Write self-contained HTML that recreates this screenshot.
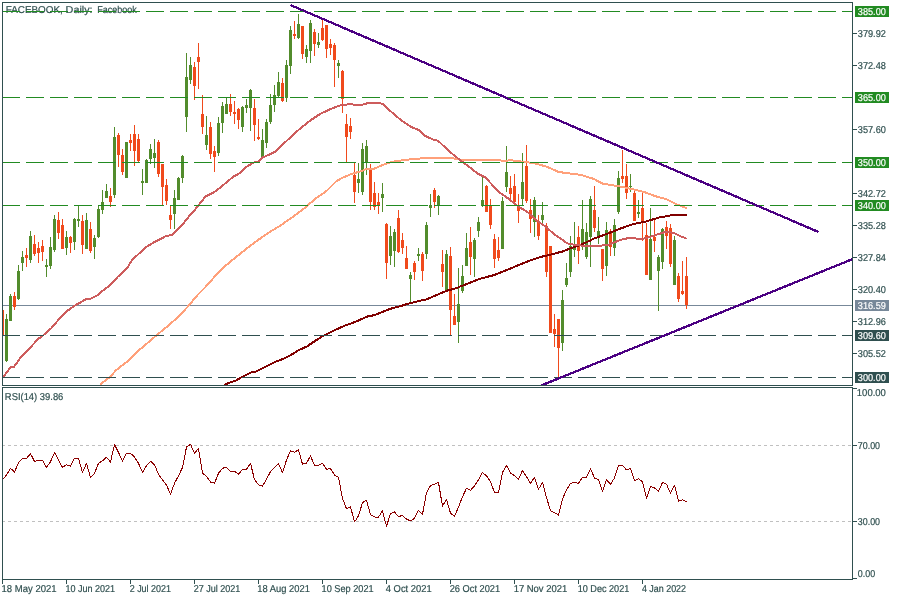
<!DOCTYPE html><html><head><meta charset="utf-8"><style>
html,body{margin:0;padding:0;background:#fff;width:900px;height:600px;overflow:hidden}
svg{display:block;will-change:transform}
text{text-rendering:geometricPrecision;font-family:"Liberation Sans",sans-serif;font-size:10px;letter-spacing:0px;fill:#2f4f4f;stroke:#2f4f4f;stroke-width:0.2px}
text.w{fill:#fff;stroke:#fff}
</style></head><body>
<svg width="900" height="600" viewBox="0 0 900 600">
<defs><clipPath id="cm"><rect x="3" y="3" width="849" height="382"/></clipPath>
<clipPath id="cr"><rect x="3" y="388" width="849" height="191"/></clipPath></defs>
<rect width="900" height="600" fill="#fff"/>
<g clip-path="url(#cm)">
<text x="5.71" y="13" textLength="57.07" lengthAdjust="spacingAndGlyphs">FACEBOOK,</text>
<text x="65.62" y="13" textLength="26.97" lengthAdjust="spacingAndGlyphs">Daily:</text>
<text x="97.30" y="13" textLength="39.43" lengthAdjust="spacingAndGlyphs">Facebook</text>
<line x1="2" y1="305.5" x2="852" y2="305.5" stroke="#778899" stroke-width="1" shape-rendering="crispEdges"/>
<g fill="#528c2c" shape-rendering="crispEdges"><rect x="6" y="314" width="1" height="48"/><rect x="5" y="319" width="3" height="42"/><rect x="10" y="294" width="1" height="27"/><rect x="9" y="296" width="3" height="25"/><rect x="18" y="265" width="1" height="35"/><rect x="17" y="271" width="3" height="28"/><rect x="22" y="251" width="1" height="20"/><rect x="21" y="257" width="3" height="6"/><rect x="30" y="231" width="1" height="32"/><rect x="29" y="236" width="3" height="24"/><rect x="46" y="259" width="1" height="18"/><rect x="45" y="265" width="3" height="2"/><rect x="50" y="237" width="1" height="32"/><rect x="49" y="247" width="3" height="19"/><rect x="54" y="215" width="1" height="37"/><rect x="53" y="219" width="3" height="31"/><rect x="66" y="231" width="1" height="24"/><rect x="65" y="237" width="3" height="11"/><rect x="74" y="218" width="1" height="32"/><rect x="73" y="219" width="3" height="23"/><rect x="78" y="205" width="1" height="22"/><rect x="77" y="219" width="3" height="2"/><rect x="86" y="213" width="1" height="36"/><rect x="85" y="220" width="3" height="29"/><rect x="94" y="235" width="1" height="24"/><rect x="93" y="238" width="3" height="9"/><rect x="98" y="205" width="1" height="33"/><rect x="97" y="209" width="3" height="28"/><rect x="102" y="190" width="1" height="24"/><rect x="101" y="202" width="3" height="8"/><rect x="106" y="184" width="1" height="14"/><rect x="105" y="191" width="3" height="7"/><rect x="114" y="127" width="1" height="71"/><rect x="113" y="137" width="3" height="58"/><rect x="126" y="142" width="1" height="36"/><rect x="125" y="142" width="3" height="36"/><rect x="142" y="169" width="1" height="26"/><rect x="141" y="181" width="3" height="2"/><rect x="146" y="159" width="1" height="24"/><rect x="145" y="160" width="3" height="23"/><rect x="150" y="144" width="1" height="20"/><rect x="149" y="149" width="3" height="10"/><rect x="154" y="139" width="1" height="29"/><rect x="153" y="153" width="3" height="5"/><rect x="174" y="190" width="1" height="39"/><rect x="173" y="198" width="3" height="16"/><rect x="178" y="177" width="1" height="23"/><rect x="177" y="178" width="3" height="22"/><rect x="182" y="155" width="1" height="28"/><rect x="181" y="156" width="3" height="22"/><rect x="186" y="53" width="1" height="79"/><rect x="185" y="77" width="3" height="40"/><rect x="190" y="57" width="1" height="27"/><rect x="189" y="65" width="3" height="15"/><rect x="206" y="116" width="1" height="34"/><rect x="205" y="135" width="3" height="10"/><rect x="218" y="117" width="1" height="39"/><rect x="217" y="123" width="3" height="30"/><rect x="222" y="102" width="1" height="31"/><rect x="221" y="106" width="3" height="17"/><rect x="226" y="97" width="1" height="17"/><rect x="225" y="104" width="3" height="10"/><rect x="242" y="106" width="1" height="26"/><rect x="241" y="107" width="3" height="20"/><rect x="246" y="99" width="1" height="14"/><rect x="245" y="105" width="3" height="3"/><rect x="250" y="89" width="1" height="42"/><rect x="249" y="90" width="3" height="18"/><rect x="262" y="129" width="1" height="28"/><rect x="261" y="140" width="3" height="17"/><rect x="266" y="119" width="1" height="29"/><rect x="265" y="122" width="3" height="21"/><rect x="270" y="94" width="1" height="30"/><rect x="269" y="105" width="3" height="17"/><rect x="274" y="85" width="1" height="27"/><rect x="273" y="95" width="3" height="10"/><rect x="278" y="72" width="1" height="25"/><rect x="277" y="82" width="3" height="14"/><rect x="286" y="60" width="1" height="42"/><rect x="285" y="65" width="3" height="33"/><rect x="290" y="26" width="1" height="48"/><rect x="289" y="30" width="3" height="36"/><rect x="298" y="14" width="1" height="25"/><rect x="297" y="24" width="3" height="14"/><rect x="306" y="45" width="1" height="18"/><rect x="305" y="49" width="3" height="8"/><rect x="310" y="20" width="1" height="43"/><rect x="309" y="23" width="3" height="28"/><rect x="318" y="33" width="1" height="15"/><rect x="317" y="42" width="3" height="3"/><rect x="338" y="60" width="1" height="18"/><rect x="337" y="63" width="3" height="3"/><rect x="358" y="163" width="1" height="30"/><rect x="357" y="179" width="3" height="4"/><rect x="362" y="143" width="1" height="52"/><rect x="361" y="149" width="3" height="43"/><rect x="366" y="140" width="1" height="35"/><rect x="365" y="146" width="3" height="16"/><rect x="382" y="183" width="1" height="29"/><rect x="381" y="194" width="3" height="4"/><rect x="390" y="226" width="1" height="39"/><rect x="389" y="236" width="3" height="20"/><rect x="394" y="229" width="1" height="38"/><rect x="393" y="232" width="3" height="19"/><rect x="410" y="272" width="1" height="30"/><rect x="409" y="275" width="3" height="4"/><rect x="418" y="248" width="1" height="13"/><rect x="417" y="254" width="3" height="2"/><rect x="426" y="222" width="1" height="37"/><rect x="425" y="225" width="3" height="29"/><rect x="430" y="194" width="1" height="23"/><rect x="429" y="205" width="3" height="3"/><rect x="438" y="195" width="1" height="20"/><rect x="437" y="196" width="3" height="9"/><rect x="446" y="250" width="1" height="40"/><rect x="445" y="254" width="3" height="36"/><rect x="458" y="268" width="1" height="75"/><rect x="457" y="304" width="3" height="18"/><rect x="462" y="265" width="1" height="28"/><rect x="461" y="276" width="3" height="15"/><rect x="466" y="233" width="1" height="33"/><rect x="465" y="248" width="3" height="18"/><rect x="474" y="238" width="1" height="39"/><rect x="473" y="240" width="3" height="19"/><rect x="478" y="217" width="1" height="20"/><rect x="477" y="222" width="3" height="9"/><rect x="482" y="177" width="1" height="30"/><rect x="481" y="200" width="3" height="6"/><rect x="502" y="197" width="1" height="52"/><rect x="501" y="201" width="3" height="48"/><rect x="506" y="146" width="1" height="46"/><rect x="505" y="172" width="3" height="15"/><rect x="522" y="153" width="1" height="52"/><rect x="521" y="182" width="3" height="17"/><rect x="534" y="197" width="1" height="40"/><rect x="533" y="200" width="3" height="22"/><rect x="542" y="202" width="1" height="21"/><rect x="541" y="215" width="3" height="5"/><rect x="562" y="290" width="1" height="61"/><rect x="561" y="300" width="3" height="43"/><rect x="566" y="263" width="1" height="24"/><rect x="565" y="278" width="3" height="7"/><rect x="570" y="236" width="1" height="41"/><rect x="569" y="246" width="3" height="26"/><rect x="574" y="222" width="1" height="35"/><rect x="573" y="247" width="3" height="3"/><rect x="582" y="200" width="1" height="50"/><rect x="581" y="229" width="3" height="18"/><rect x="586" y="223" width="1" height="36"/><rect x="585" y="232" width="3" height="25"/><rect x="590" y="196" width="1" height="71"/><rect x="589" y="199" width="3" height="38"/><rect x="598" y="217" width="1" height="27"/><rect x="597" y="231" width="3" height="5"/><rect x="606" y="222" width="1" height="54"/><rect x="605" y="230" width="3" height="36"/><rect x="614" y="219" width="1" height="37"/><rect x="613" y="225" width="3" height="23"/><rect x="618" y="171" width="1" height="43"/><rect x="617" y="178" width="3" height="34"/><rect x="630" y="174" width="1" height="18"/><rect x="629" y="186" width="3" height="1"/><rect x="638" y="200" width="1" height="18"/><rect x="637" y="212" width="3" height="2"/><rect x="650" y="208" width="1" height="72"/><rect x="649" y="239" width="3" height="41"/><rect x="658" y="255" width="1" height="56"/><rect x="657" y="257" width="3" height="14"/><rect x="662" y="228" width="1" height="41"/><rect x="661" y="229" width="3" height="33"/><rect x="674" y="236" width="1" height="49"/><rect x="673" y="240" width="3" height="45"/></g>
<g fill="#f04a1c" shape-rendering="crispEdges"><rect x="2" y="305" width="1" height="33"/><rect x="1" y="310" width="3" height="25"/><rect x="14" y="292" width="1" height="18"/><rect x="13" y="296" width="3" height="11"/><rect x="26" y="248" width="1" height="19"/><rect x="25" y="255" width="3" height="3"/><rect x="34" y="235" width="1" height="21"/><rect x="33" y="244" width="3" height="10"/><rect x="38" y="242" width="1" height="21"/><rect x="37" y="248" width="3" height="5"/><rect x="42" y="240" width="1" height="21"/><rect x="41" y="246" width="3" height="6"/><rect x="58" y="212" width="1" height="27"/><rect x="57" y="220" width="3" height="13"/><rect x="62" y="219" width="1" height="30"/><rect x="61" y="225" width="3" height="24"/><rect x="70" y="236" width="1" height="17"/><rect x="69" y="237" width="3" height="6"/><rect x="82" y="215" width="1" height="39"/><rect x="81" y="221" width="3" height="24"/><rect x="90" y="222" width="1" height="31"/><rect x="89" y="229" width="3" height="22"/><rect x="110" y="188" width="1" height="19"/><rect x="109" y="196" width="3" height="6"/><rect x="118" y="133" width="1" height="34"/><rect x="117" y="135" width="3" height="20"/><rect x="122" y="149" width="1" height="26"/><rect x="121" y="155" width="3" height="17"/><rect x="130" y="134" width="1" height="17"/><rect x="129" y="140" width="3" height="3"/><rect x="134" y="125" width="1" height="41"/><rect x="133" y="134" width="3" height="17"/><rect x="138" y="134" width="1" height="28"/><rect x="137" y="139" width="3" height="22"/><rect x="158" y="140" width="1" height="37"/><rect x="157" y="142" width="3" height="32"/><rect x="162" y="164" width="1" height="41"/><rect x="161" y="164" width="3" height="23"/><rect x="166" y="179" width="1" height="26"/><rect x="165" y="185" width="3" height="16"/><rect x="170" y="205" width="1" height="24"/><rect x="169" y="215" width="3" height="5"/><rect x="194" y="62" width="1" height="38"/><rect x="193" y="67" width="3" height="19"/><rect x="198" y="43" width="1" height="46"/><rect x="197" y="57" width="3" height="5"/><rect x="202" y="95" width="1" height="39"/><rect x="201" y="114" width="3" height="13"/><rect x="210" y="122" width="1" height="37"/><rect x="209" y="127" width="3" height="27"/><rect x="214" y="146" width="1" height="26"/><rect x="213" y="151" width="3" height="6"/><rect x="230" y="94" width="1" height="22"/><rect x="229" y="104" width="3" height="8"/><rect x="234" y="101" width="1" height="23"/><rect x="233" y="112" width="3" height="2"/><rect x="238" y="108" width="1" height="21"/><rect x="237" y="109" width="3" height="11"/><rect x="254" y="99" width="1" height="42"/><rect x="253" y="108" width="3" height="17"/><rect x="258" y="119" width="1" height="21"/><rect x="257" y="137" width="3" height="2"/><rect x="282" y="78" width="1" height="24"/><rect x="281" y="83" width="3" height="18"/><rect x="294" y="21" width="1" height="18"/><rect x="293" y="34" width="3" height="2"/><rect x="302" y="26" width="1" height="33"/><rect x="301" y="26" width="3" height="28"/><rect x="314" y="29" width="1" height="27"/><rect x="313" y="32" width="3" height="12"/><rect x="322" y="19" width="1" height="22"/><rect x="321" y="28" width="3" height="12"/><rect x="326" y="25" width="1" height="33"/><rect x="325" y="25" width="3" height="24"/><rect x="330" y="39" width="1" height="16"/><rect x="329" y="44" width="3" height="4"/><rect x="334" y="43" width="1" height="44"/><rect x="333" y="45" width="3" height="15"/><rect x="342" y="70" width="1" height="43"/><rect x="341" y="71" width="3" height="28"/><rect x="346" y="114" width="1" height="48"/><rect x="345" y="124" width="3" height="13"/><rect x="350" y="118" width="1" height="21"/><rect x="349" y="126" width="3" height="6"/><rect x="354" y="163" width="1" height="40"/><rect x="353" y="175" width="3" height="17"/><rect x="370" y="164" width="1" height="46"/><rect x="369" y="168" width="3" height="34"/><rect x="374" y="182" width="1" height="28"/><rect x="373" y="193" width="3" height="14"/><rect x="378" y="193" width="1" height="21"/><rect x="377" y="202" width="3" height="4"/><rect x="386" y="223" width="1" height="56"/><rect x="385" y="224" width="3" height="39"/><rect x="398" y="210" width="1" height="43"/><rect x="397" y="218" width="3" height="34"/><rect x="402" y="233" width="1" height="21"/><rect x="401" y="240" width="3" height="8"/><rect x="406" y="246" width="1" height="23"/><rect x="405" y="258" width="3" height="11"/><rect x="414" y="261" width="1" height="19"/><rect x="413" y="263" width="3" height="9"/><rect x="422" y="252" width="1" height="29"/><rect x="421" y="254" width="3" height="17"/><rect x="434" y="188" width="1" height="20"/><rect x="433" y="190" width="3" height="12"/><rect x="442" y="250" width="1" height="37"/><rect x="441" y="264" width="3" height="8"/><rect x="450" y="247" width="1" height="88"/><rect x="449" y="256" width="3" height="54"/><rect x="454" y="294" width="1" height="31"/><rect x="453" y="316" width="3" height="9"/><rect x="470" y="227" width="1" height="48"/><rect x="469" y="242" width="3" height="15"/><rect x="486" y="185" width="1" height="27"/><rect x="485" y="186" width="3" height="26"/><rect x="490" y="199" width="1" height="30"/><rect x="489" y="205" width="3" height="20"/><rect x="494" y="234" width="1" height="34"/><rect x="493" y="239" width="3" height="20"/><rect x="498" y="237" width="1" height="24"/><rect x="497" y="250" width="3" height="8"/><rect x="510" y="176" width="1" height="23"/><rect x="509" y="188" width="3" height="6"/><rect x="514" y="174" width="1" height="28"/><rect x="513" y="186" width="3" height="16"/><rect x="518" y="194" width="1" height="29"/><rect x="517" y="205" width="3" height="6"/><rect x="526" y="145" width="1" height="58"/><rect x="525" y="166" width="3" height="35"/><rect x="530" y="199" width="1" height="34"/><rect x="529" y="210" width="3" height="9"/><rect x="538" y="215" width="1" height="25"/><rect x="537" y="222" width="3" height="14"/><rect x="546" y="223" width="1" height="54"/><rect x="545" y="226" width="3" height="46"/><rect x="550" y="246" width="1" height="87"/><rect x="549" y="246" width="3" height="87"/><rect x="554" y="314" width="1" height="33"/><rect x="553" y="329" width="3" height="5"/><rect x="558" y="319" width="1" height="58"/><rect x="557" y="319" width="3" height="29"/><rect x="578" y="226" width="1" height="38"/><rect x="577" y="237" width="3" height="14"/><rect x="594" y="186" width="1" height="46"/><rect x="593" y="210" width="3" height="18"/><rect x="602" y="249" width="1" height="32"/><rect x="601" y="249" width="3" height="20"/><rect x="610" y="229" width="1" height="27"/><rect x="609" y="231" width="3" height="16"/><rect x="622" y="150" width="1" height="33"/><rect x="621" y="176" width="3" height="3"/><rect x="626" y="164" width="1" height="35"/><rect x="625" y="176" width="3" height="17"/><rect x="634" y="191" width="1" height="30"/><rect x="633" y="193" width="3" height="28"/><rect x="642" y="193" width="1" height="48"/><rect x="641" y="208" width="3" height="13"/><rect x="646" y="223" width="1" height="52"/><rect x="645" y="235" width="3" height="40"/><rect x="654" y="220" width="1" height="32"/><rect x="653" y="237" width="3" height="4"/><rect x="666" y="221" width="1" height="28"/><rect x="665" y="227" width="3" height="9"/><rect x="670" y="224" width="1" height="43"/><rect x="669" y="228" width="3" height="36"/><rect x="678" y="273" width="1" height="29"/><rect x="677" y="276" width="3" height="23"/><rect x="682" y="261" width="1" height="34"/><rect x="681" y="291" width="3" height="3"/><rect x="686" y="257" width="1" height="52"/><rect x="685" y="276" width="3" height="29"/></g>
<polyline points="224.0,385.0 231.0,382.0 235.0,381.0 243.0,376.4 251.0,372.4 255.0,372.0 263.0,368.0 275.0,362.0 283.0,359.0 291.0,355.0 299.0,350.0 307.0,346.4 315.0,341.0 323.0,336.0 335.0,330.0 345.0,325.6 355.0,322.0 367.0,316.6 375.0,315.0 381.0,312.4 390.7,308.7 401.3,306.0 406.7,304.0 414.7,302.0 426.7,299.3 437.3,294.7 446.7,290.7 454.7,288.7 466.7,284.0 480.0,278.7 493.3,275.3 500.0,272.7 510.0,268.7 526.0,262.0 539.3,257.3 550.0,254.7 563.3,251.3 571.3,248.0 579.3,245.3 590.0,240.7 593.3,238.7 606.7,234.0 620.0,228.7 633.3,224.0 646.7,221.3 660.0,217.3 673.3,215.0 686.7,215.0" fill="none" stroke="#800000" stroke-width="2" stroke-linejoin="round" shape-rendering="crispEdges"/>
<polyline points="100.0,384.5 110.0,377.0 116.3,370.0 127.5,361.3 136.3,352.5 147.5,343.0 157.5,334.5 167.5,326.3 177.5,317.5 187.5,307.0 197.5,295.0 205.0,287.5 210.0,281.8 221.7,269.0 235.7,257.3 247.3,248.0 256.7,241.0 268.3,232.8 280.0,225.8 291.7,217.7 305.7,207.2 315.0,199.0 326.7,190.8 336.0,181.5 342.0,178.0 351.3,174.0 360.7,171.3 367.3,168.7 374.0,168.7 383.3,164.7 391.3,162.0 404.7,160.0 415.3,158.7 434.0,158.0 450.0,157.7 460.0,159.7 470.7,160.3 484.0,159.7 494.7,160.3 506.7,160.7 510.7,160.0 516.0,161.0 526.7,162.0 537.3,164.0 546.7,166.7 558.7,172.0 570.7,173.6 580.0,174.7 593.3,178.7 602.7,183.7 613.3,185.3 624.0,187.3 636.0,190.0 644.0,192.0 654.7,196.0 666.7,199.3 676.0,204.0 686.7,208.3" fill="none" stroke="#ffa07a" stroke-width="2" stroke-linejoin="round" shape-rendering="crispEdges"/>
<polyline points="3.5,376.6 8.8,369.6 11.7,366.7 14.0,366.7 16.3,363.8 21.0,356.8 29.2,348.6 38.5,338.7 42.0,336.3 51.3,328.2 58.3,320.0 66.7,311.3 76.0,304.7 80.0,302.7 86.7,298.7 90.7,298.7 97.3,295.3 102.7,290.7 109.3,286.0 117.3,277.3 128.0,266.7 132.0,260.0 140.0,252.7 146.7,246.7 153.3,242.7 160.0,239.3 166.7,235.7 170.7,235.3 173.3,234.0 178.7,228.7 184.0,222.7 189.3,216.0 194.7,210.0 200.0,203.3 205.3,196.7 213.3,192.7 221.3,186.7 229.3,180.0 233.3,176.7 240.0,173.0 246.7,166.7 253.3,162.7 258.7,161.7 262.7,157.3 269.3,154.7 276.0,151.3 284.0,143.3 293.3,134.7 300.0,128.7 310.0,120.7 320.0,114.0 330.0,109.3 338.7,105.7 344.0,105.0 349.3,104.0 354.7,104.7 362.7,104.7 368.0,103.0 378.7,103.0 382.7,104.0 390.7,111.3 400.0,119.3 410.7,126.7 418.7,130.0 424.0,135.3 434.0,140.0 438.0,140.7 450.0,152.0 460.0,160.0 468.0,166.0 477.3,173.3 485.3,177.3 498.7,192.0 508.4,198.6 516.7,205.3 528.0,212.5 536.7,220.7 544.7,226.0 554.0,234.0 567.3,243.3 576.7,245.3 590.0,246.0 606.7,245.3 624.0,238.7 633.3,238.0 640.0,239.3 646.7,238.0 654.7,235.3 665.3,232.0 673.3,232.7 680.0,236.0 686.7,238.7" fill="none" stroke="#cd5c5c" stroke-width="2" stroke-linejoin="round" shape-rendering="crispEdges"/>
<line x1="2" y1="11.5" x2="852" y2="11.5" stroke="#228b22" stroke-width="1" stroke-dasharray="18 6" shape-rendering="crispEdges"/>
<line x1="2" y1="97.5" x2="852" y2="97.5" stroke="#228b22" stroke-width="1" stroke-dasharray="18 6" shape-rendering="crispEdges"/>
<line x1="2" y1="162.5" x2="852" y2="162.5" stroke="#228b22" stroke-width="1" stroke-dasharray="18 6" shape-rendering="crispEdges"/>
<line x1="2" y1="205.5" x2="852" y2="205.5" stroke="#228b22" stroke-width="1" stroke-dasharray="18 6" shape-rendering="crispEdges"/>
<line x1="2" y1="335.5" x2="852" y2="335.5" stroke="#2f4f4f" stroke-width="1" stroke-dasharray="18 6" shape-rendering="crispEdges"/>
<line x1="2" y1="377.5" x2="852" y2="377.5" stroke="#2f4f4f" stroke-width="1" stroke-dasharray="18 6" shape-rendering="crispEdges"/>
<line x1="290.4" y1="5" x2="818.5" y2="232" stroke="#4b0082" stroke-width="2.3" shape-rendering="crispEdges"/>
<line x1="536" y1="387.6" x2="853" y2="258.9" stroke="#4b0082" stroke-width="2.3" shape-rendering="crispEdges"/>
</g>
<g clip-path="url(#cr)">
<line x1="2" y1="445.5" x2="852" y2="445.5" stroke="#c0c0c0" stroke-width="1" stroke-dasharray="3 3" shape-rendering="crispEdges"/>
<line x1="2" y1="521.5" x2="852" y2="521.5" stroke="#c0c0c0" stroke-width="1" stroke-dasharray="3 3" shape-rendering="crispEdges"/>
<polyline points="2.5,479.7 6.5,475.0 10.5,468.3 14.5,472.0 18.5,462.5 22.5,458.3 26.5,458.3 30.5,453.7 34.5,461.3 38.5,460.3 42.5,460.3 46.5,467.5 50.5,461.7 54.5,452.5 58.5,460.0 62.5,467.5 66.5,464.7 70.5,466.2 74.5,458.3 78.5,458.3 82.5,472.5 86.5,463.3 90.5,477.5 94.5,473.3 98.5,463.3 102.5,460.8 106.5,457.2 110.5,462.0 114.5,444.5 118.5,452.5 122.5,461.3 126.5,453.3 130.5,453.3 134.5,457.0 138.5,463.3 142.5,472.5 146.5,465.8 150.5,461.3 154.5,464.7 158.5,474.2 162.5,480.0 166.5,485.0 170.5,494.2 174.5,483.3 178.5,475.8 182.5,467.5 186.5,447.0 190.5,444.2 194.5,453.3 198.5,448.3 202.5,473.3 206.5,476.3 210.5,482.0 214.5,483.3 218.5,473.3 222.5,468.3 226.5,467.2 230.5,471.3 234.5,471.3 238.5,474.2 242.5,469.5 246.5,469.2 250.5,463.3 254.5,479.7 258.5,484.7 262.5,486.3 266.5,479.2 270.5,471.7 274.5,467.5 278.5,463.7 282.5,472.5 286.5,460.0 290.5,450.8 294.5,452.2 298.5,449.7 302.5,464.2 306.5,463.3 310.5,455.8 314.5,465.3 318.5,465.3 322.5,463.3 326.5,469.2 330.5,468.7 334.5,475.0 338.5,477.5 342.5,498.3 346.5,508.8 350.5,506.7 354.5,522.0 358.5,515.8 362.5,502.5 366.5,500.3 370.5,514.7 374.5,517.0 378.5,517.0 382.5,510.8 386.5,526.3 390.5,513.7 394.5,512.0 398.5,516.7 402.5,515.3 406.5,519.2 410.5,520.8 414.5,518.3 418.5,510.3 422.5,514.2 426.5,492.8 430.5,485.5 434.5,484.2 438.5,482.5 442.5,506.3 446.5,499.2 450.5,513.3 454.5,516.3 458.5,507.0 462.5,496.7 466.5,488.3 470.5,490.3 474.5,485.8 478.5,479.7 482.5,472.5 486.5,475.8 490.5,481.7 494.5,492.5 498.5,492.5 502.5,472.5 506.5,465.5 510.5,473.0 514.5,475.8 518.5,479.2 522.5,470.5 526.5,476.7 530.5,483.3 534.5,477.5 538.5,489.2 542.5,482.5 546.5,497.5 550.5,510.8 554.5,512.5 558.5,515.0 562.5,498.8 566.5,490.0 570.5,483.3 574.5,482.5 578.5,483.3 582.5,477.5 586.5,477.2 590.5,468.7 594.5,478.0 598.5,479.7 602.5,491.3 606.5,479.7 610.5,484.2 614.5,478.0 618.5,465.8 622.5,465.3 626.5,470.0 630.5,468.3 634.5,480.8 638.5,478.7 642.5,481.7 646.5,498.3 650.5,486.3 654.5,488.0 658.5,491.3 662.5,482.5 666.5,484.2 670.5,493.3 674.5,485.3 678.5,501.2 682.5,499.7 686.5,501.7" fill="none" stroke="#8b0000" stroke-width="1" stroke-linejoin="round" shape-rendering="crispEdges"/>
<text x="4.86" y="400" textLength="58.49" lengthAdjust="spacingAndGlyphs">RSI(14) 39.86</text>
</g>
<rect x="2" y="2" width="851" height="1" fill="#2f4f4f"/>
<rect x="2" y="385" width="851" height="1" fill="#2f4f4f"/>
<rect x="2" y="2" width="1" height="384" fill="#2f4f4f"/>
<rect x="852" y="2" width="1" height="384" fill="#2f4f4f"/>
<rect x="2" y="387" width="851" height="1" fill="#2f4f4f"/>
<rect x="2" y="579" width="851" height="1" fill="#2f4f4f"/>
<rect x="2" y="387" width="1" height="193" fill="#2f4f4f"/>
<rect x="852" y="387" width="1" height="193" fill="#2f4f4f"/>
<rect x="853" y="33" width="4" height="1" fill="#2f4f4f"/>
<text x="857.80" y="37" textLength="28.04" lengthAdjust="spacingAndGlyphs">379.92</text>
<rect x="853" y="65" width="4" height="1" fill="#2f4f4f"/>
<text x="857.80" y="69" textLength="28.04" lengthAdjust="spacingAndGlyphs">372.48</text>
<rect x="853" y="129" width="4" height="1" fill="#2f4f4f"/>
<text x="857.80" y="133" textLength="28.04" lengthAdjust="spacingAndGlyphs">357.60</text>
<rect x="853" y="193" width="4" height="1" fill="#2f4f4f"/>
<text x="857.80" y="197" textLength="28.04" lengthAdjust="spacingAndGlyphs">342.72</text>
<rect x="853" y="225" width="4" height="1" fill="#2f4f4f"/>
<text x="857.80" y="229" textLength="28.04" lengthAdjust="spacingAndGlyphs">335.28</text>
<rect x="853" y="257" width="4" height="1" fill="#2f4f4f"/>
<text x="857.80" y="261" textLength="28.04" lengthAdjust="spacingAndGlyphs">327.84</text>
<rect x="853" y="289" width="4" height="1" fill="#2f4f4f"/>
<text x="857.80" y="293" textLength="28.04" lengthAdjust="spacingAndGlyphs">320.40</text>
<rect x="853" y="321" width="4" height="1" fill="#2f4f4f"/>
<text x="857.80" y="325" textLength="28.04" lengthAdjust="spacingAndGlyphs">312.96</text>
<rect x="853" y="353" width="4" height="1" fill="#2f4f4f"/>
<text x="857.80" y="357" textLength="28.04" lengthAdjust="spacingAndGlyphs">305.52</text>
<rect x="855" y="6" width="34" height="11" fill="#228b22"/>
<text x="857.80" y="15" textLength="28.04" lengthAdjust="spacingAndGlyphs" class="w">385.00</text>
<rect x="855" y="92" width="34" height="11" fill="#228b22"/>
<text x="857.80" y="101" textLength="28.04" lengthAdjust="spacingAndGlyphs" class="w">365.00</text>
<rect x="855" y="157" width="34" height="11" fill="#228b22"/>
<text x="857.80" y="166" textLength="28.04" lengthAdjust="spacingAndGlyphs" class="w">350.00</text>
<rect x="855" y="200" width="34" height="11" fill="#228b22"/>
<text x="857.80" y="209" textLength="28.04" lengthAdjust="spacingAndGlyphs" class="w">340.00</text>
<rect x="855" y="300" width="34" height="11" fill="#778899"/>
<text x="857.80" y="309" textLength="28.04" lengthAdjust="spacingAndGlyphs" class="w">316.59</text>
<rect x="855" y="330" width="34" height="11" fill="#2f4f4f"/>
<text x="857.80" y="339" textLength="28.04" lengthAdjust="spacingAndGlyphs" class="w">309.60</text>
<rect x="855" y="372" width="34" height="11" fill="#2f4f4f"/>
<text x="857.80" y="381" textLength="28.04" lengthAdjust="spacingAndGlyphs" class="w">300.00</text>
<rect x="853" y="388" width="4" height="1" fill="#2f4f4f"/>
<text x="856.85" y="396" textLength="29.01" lengthAdjust="spacingAndGlyphs">100.00</text>
<rect x="853" y="445" width="4" height="1" fill="#2f4f4f"/>
<text x="857.80" y="449" textLength="22.23" lengthAdjust="spacingAndGlyphs">70.00</text>
<rect x="853" y="521" width="4" height="1" fill="#2f4f4f"/>
<text x="857.80" y="525" textLength="22.23" lengthAdjust="spacingAndGlyphs">30.00</text>
<rect x="853" y="578" width="4" height="1" fill="#2f4f4f"/>
<text x="857.80" y="577" textLength="17.32" lengthAdjust="spacingAndGlyphs">0.00</text>
<rect x="2" y="580" width="1" height="4" fill="#2f4f4f"/>
<text x="1.55" y="592" textLength="55.04" lengthAdjust="spacingAndGlyphs">18 May 2021</text>
<rect x="66" y="580" width="1" height="4" fill="#2f4f4f"/>
<text x="65.40" y="592" textLength="49.66" lengthAdjust="spacingAndGlyphs">10 Jun 2021</text>
<rect x="130" y="580" width="1" height="4" fill="#2f4f4f"/>
<text x="129.70" y="592" textLength="41.24" lengthAdjust="spacingAndGlyphs">2 Jul 2021</text>
<rect x="194" y="580" width="1" height="4" fill="#2f4f4f"/>
<text x="193.70" y="592" textLength="46.65" lengthAdjust="spacingAndGlyphs">27 Jul 2021</text>
<rect x="258" y="580" width="1" height="4" fill="#2f4f4f"/>
<text x="257.37" y="592" textLength="52.50" lengthAdjust="spacingAndGlyphs">18 Aug 2021</text>
<rect x="322" y="580" width="1" height="4" fill="#2f4f4f"/>
<text x="321.58" y="592" textLength="52.08" lengthAdjust="spacingAndGlyphs">10 Sep 2021</text>
<rect x="386" y="580" width="1" height="4" fill="#2f4f4f"/>
<text x="385.80" y="592" textLength="45.86" lengthAdjust="spacingAndGlyphs">4 Oct 2021</text>
<rect x="450" y="580" width="1" height="4" fill="#2f4f4f"/>
<text x="449.70" y="592" textLength="50.45" lengthAdjust="spacingAndGlyphs">26 Oct 2021</text>
<rect x="514" y="580" width="1" height="4" fill="#2f4f4f"/>
<text x="513.65" y="592" textLength="53.62" lengthAdjust="spacingAndGlyphs">17 Nov 2021</text>
<rect x="578" y="580" width="1" height="4" fill="#2f4f4f"/>
<text x="577.69" y="592" textLength="51.56" lengthAdjust="spacingAndGlyphs">10 Dec 2021</text>
<rect x="642" y="580" width="1" height="4" fill="#2f4f4f"/>
<text x="641.90" y="592" textLength="44.15" lengthAdjust="spacingAndGlyphs">4 Jan 2022</text>
</svg></body></html>
